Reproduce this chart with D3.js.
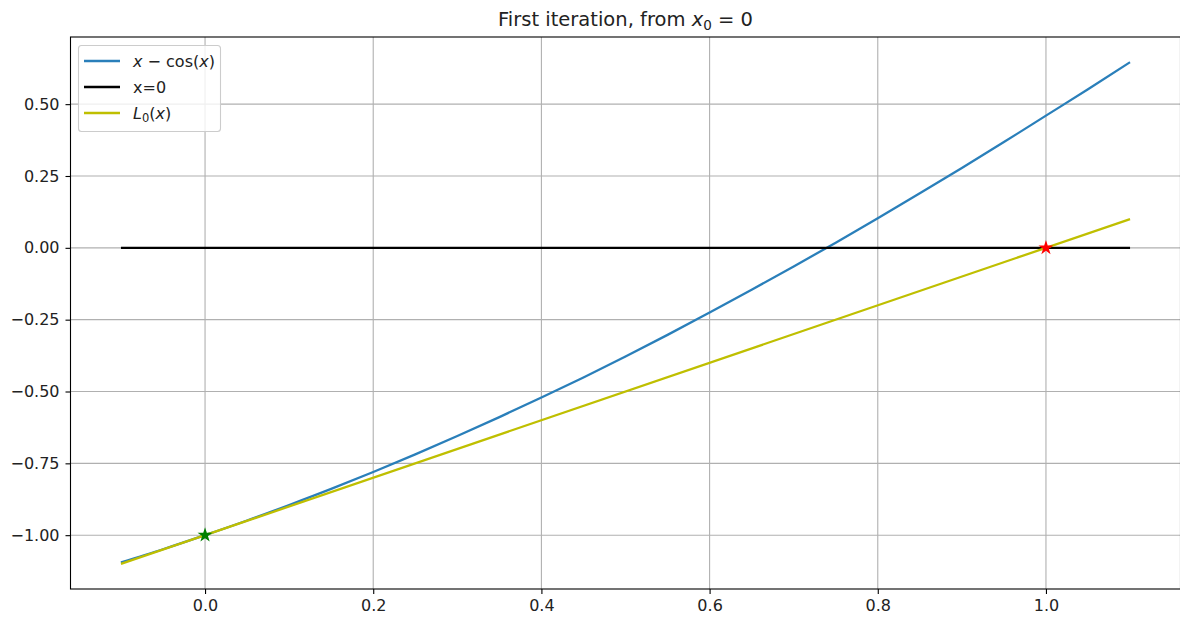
<!DOCTYPE html>
<html>
<head>
<meta charset="utf-8">
<script src="https://cdn.jsdelivr.net/npm/d3@7"></script>
<style>
  html, body { margin: 0; padding: 0; background: #fff; }
  svg { display: block; font-family: "DejaVu Sans", sans-serif; }
</style>
</head>
<body>
<svg id="chart" width="1180" height="619"></svg>
<script>
// f(x) = x - cos(x), sampled along the plotted interval
const fx = [-0.10, -0.05, 0.00, 0.05, 0.10, 0.15, 0.20, 0.25, 0.30, 0.35, 0.40, 0.45, 0.50,
            0.55, 0.60, 0.65, 0.70, 0.75, 0.80, 0.85, 0.90, 0.95, 1.00, 1.05, 1.10];
const fy = [-1.095, -1.049, -1.000, -0.949, -0.895, -0.839, -0.780, -0.719, -0.655, -0.589,
            -0.521, -0.451, -0.378, -0.303, -0.225, -0.146, -0.065, 0.018, 0.103, 0.190,
            0.278, 0.368, 0.460, 0.552, 0.646];
// the x = 0 reference line (y = 0) over the same span
const zeroX = [-0.10, 1.10];
const zeroY = [0.00, 0.00];
// tangent line L0(x) at x0 = 0
const tanX = [-0.10, 1.10];
const tanY = [-1.10, 0.10];
// starting point and the next iterate
const startPt = [0.0, -1.0];
const nextPt = [1.0, 0.0];

const xTicks = [0.0, 0.2, 0.4, 0.6, 0.8, 1.0];
const yTicks = [-1.00, -0.75, -0.50, -0.25, 0.00, 0.25, 0.50];

const svg = d3.select("#chart");
const L = 70.5, R = 1180.5, T = 37, B = 589;

const x = d3.scaleLinear().domain([-0.16, 1.16]).range([L, R]);
const y = d3.scaleLinear().domain([-1.1873, 0.7337]).range([B, T]);

const tickFont = 16;
const fmtMinus = s => s.replace("-", "\u2212");

// grid
const grid = svg.append("g").attr("stroke", "#b0b0b0").attr("stroke-width", 1.1);
xTicks.forEach(t => grid.append("line")
  .attr("x1", x(t)).attr("x2", x(t)).attr("y1", T).attr("y2", B));
yTicks.forEach(t => grid.append("line")
  .attr("x1", L).attr("x2", R).attr("y1", y(t)).attr("y2", y(t)));

// axes
const xAxis = d3.axisBottom(x).tickValues(xTicks).tickSizeInner(5).tickSizeOuter(0).tickPadding(6)
  .tickFormat(d => fmtMinus(d3.format(".1f")(d)));
const yAxis = d3.axisLeft(y).tickValues(yTicks).tickSizeInner(5).tickSizeOuter(0).tickPadding(6)
  .tickFormat(d => fmtMinus(d3.format(".2f")(d)));

const gx = svg.append("g").attr("transform", `translate(0,${B})`).call(xAxis);
const gy = svg.append("g").attr("transform", `translate(${L},0)`).call(yAxis);
[gx, gy].forEach(g => {
  g.select(".domain").remove();
  g.selectAll(".tick line").attr("stroke", "#000").attr("stroke-width", 1.1);
  g.selectAll(".tick text").attr("fill", "#222").style("font-size", tickFont + "px")
    .style("font-family", "DejaVu Sans");
});

// data lines
const line = d3.line().x(d => x(d[0])).y(d => y(d[1]));
const smooth = d3.line().x(d => x(d[0])).y(d => y(d[1])).curve(d3.curveMonotoneX);

const plot = svg.append("g");
plot.append("path").datum(fx.map((v, i) => [v, fy[i]]))
  .attr("d", smooth).attr("fill", "none").attr("stroke", "#2a7fba").attr("stroke-width", 2.3);
plot.append("path").datum(zeroX.map((v, i) => [v, zeroY[i]]))
  .attr("d", line).attr("fill", "none").attr("stroke", "#000").attr("stroke-width", 2.3);
plot.append("path").datum(tanX.map((v, i) => [v, tanY[i]]))
  .attr("d", line).attr("fill", "none").attr("stroke", "#bfbf00").attr("stroke-width", 2.3);

// star markers
const star = d3.symbol().type(d3.symbolStar).size(70);
plot.append("path").attr("d", star)
  .attr("transform", `translate(${x(startPt[0])},${y(startPt[1])})`).attr("fill", "green");
plot.append("path").attr("d", star)
  .attr("transform", `translate(${x(nextPt[0])},${y(nextPt[1])})`).attr("fill", "red");

// frame
svg.append("rect").attr("x", L).attr("y", T).attr("width", R - L).attr("height", B - T)
  .attr("fill", "none").attr("stroke", "#000").attr("stroke-width", 1.1);

// title
const title = svg.append("text").attr("x", (L + R) / 2).attr("y", 26)
  .attr("text-anchor", "middle").style("font-size", "19.5px").attr("fill", "#222");
title.append("tspan").text("First iteration, from ");
title.append("tspan").style("font-style", "italic").text("x");
title.append("tspan").attr("dy", 4).style("font-size", "13.5px").text("0");
title.append("tspan").attr("dy", -4).text(" = 0");

// legend
const leg = svg.append("g");
leg.append("rect").attr("x", 78.5).attr("y", 45.5).attr("width", 142).attr("height", 86)
  .attr("rx", 3).attr("fill", "#fff").attr("fill-opacity", 0.8)
  .attr("stroke", "#cccccc").attr("stroke-width", 1.1);
const entries = [
  { color: "#2a7fba", y: 61 },
  { color: "#000", y: 87 },
  { color: "#bfbf00", y: 113 }
];
entries.forEach(e => leg.append("line").attr("x1", 84).attr("x2", 120)
  .attr("y1", e.y).attr("y2", e.y).attr("stroke", e.color).attr("stroke-width", 2.3));

const t1 = leg.append("text").attr("x", 133).attr("y", 61).attr("dy", "0.35em")
  .style("font-size", tickFont + "px").attr("fill", "#222");
t1.append("tspan").style("font-style", "italic").text("x");
t1.append("tspan").text(" \u2212 cos(");
t1.append("tspan").style("font-style", "italic").text("x");
t1.append("tspan").text(")");

leg.append("text").attr("x", 133).attr("y", 87).attr("dy", "0.35em")
  .style("font-size", tickFont + "px").attr("fill", "#222").text("x=0");

const t3 = leg.append("text").attr("x", 133).attr("y", 113).attr("dy", "0.35em")
  .style("font-size", tickFont + "px").attr("fill", "#222");
t3.append("tspan").style("font-style", "italic").text("L");
t3.append("tspan").attr("dy", 3).style("font-size", "11.5px").text("0");
t3.append("tspan").attr("dy", -3).text("(");
t3.append("tspan").style("font-style", "italic").text("x");
t3.append("tspan").text(")");
</script>
</body>
</html>
